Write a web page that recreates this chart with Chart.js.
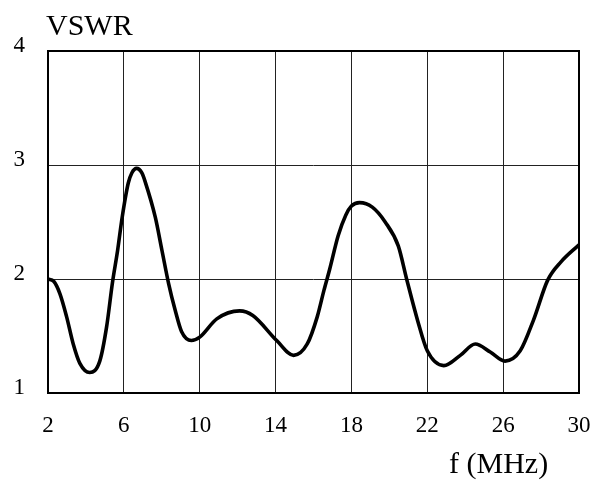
<!DOCTYPE html>
<html>
<head>
<meta charset="utf-8">
<script src="https://cdn.jsdelivr.net/npm/chart.js@4/dist/chart.umd.min.js"></script>
<style>
html,body{margin:0;padding:0;background:#fff;}
#wrap{width:595px;height:483px;position:relative;}
</style>
</head>
<body>
<div id="wrap"><canvas id="c" width="595" height="483"></canvas></div>
<script>
const freq = [2.0,2.3,2.63,2.98,3.33,3.68,4.2,4.73,5.09,5.4,5.67,5.91,6.23,6.42,6.67,6.95,7.13,7.66,8.01,8.36,8.7,9.04,9.56,10.0,10.9,12.1,12.8,14.06,14.95,15.67,16.2,16.55,16.86,17.3,17.7,18.0,18.43,19.1,19.78,20.47,20.91,21.5,22.0,22.87,23.74,24.53,25.32,26.1,26.9,27.6,28.35,29.05,30.0];
const vswr = [2.00,1.98,1.87,1.67,1.43,1.26,1.18,1.28,1.58,1.97,2.25,2.54,2.84,2.93,2.97,2.93,2.85,2.54,2.25,1.96,1.73,1.54,1.46,1.49,1.65,1.72,1.68,1.46,1.33,1.43,1.67,1.90,2.09,2.38,2.56,2.64,2.67,2.63,2.50,2.29,2.00,1.63,1.37,1.24,1.33,1.43,1.36,1.28,1.37,1.64,1.99,2.15,2.30];
const xTicks = [2,6,10,14,18,22,26,30];
const yTicks = [1,2,3,4];
const yTitle = 'VSWR';
const xTitle = 'f (MHz)';

const points = freq.map((f,i)=>({x:f,y:vswr[i]}));
const FONT = "'Liberation Serif', 'Times New Roman', serif";

const textPlugin = {
  id:'texts',
  afterDraw(chart){
    const ctx = chart.ctx;
    ctx.save();
    ctx.fillStyle = '#000';
    ctx.font = '30px ' + FONT;
    ctx.textBaseline = 'alphabetic';
    ctx.textAlign = 'left';
    ctx.fillText(yTitle, 46, 35);
    ctx.fillText(xTitle, 449, 473);
    ctx.restore();
  }
};
const borderPlugin = {
  id:'frame',
  afterDatasetsDraw(chart){
    const a = chart.chartArea, ctx = chart.ctx;
    ctx.save();
    ctx.strokeStyle = '#000';
    ctx.lineWidth = 2;
    ctx.strokeRect(a.left, a.top, a.right - a.left, a.bottom - a.top);
    ctx.restore();
  }
};

new Chart(document.getElementById('c'), {
  type:'line',
  data:{datasets:[{
    data:points,
    borderColor:'#000',
    borderWidth:3.6,
    pointRadius:0,
    fill:false,
    tension:0.4,
    cubicInterpolationMode:'monotone'
  }]},
  options:{
    responsive:false,
    animation:false,
    devicePixelRatio:1,
    layout:{padding:{top:51,right:16,left:0,bottom:0}},
    plugins:{legend:{display:false},tooltip:{enabled:false}},
    scales:{
      x:{
        type:'linear',min:2,max:30,
        afterBuildTicks(s){ s.ticks = xTicks.map(v=>({value:v})); },
        afterFit(s){ s.height = 483 - 393; s.paddingLeft = 0; s.paddingRight = 0; },
        grid:{color:'#222',lineWidth:1,drawTicks:false},
        border:{display:false},
        ticks:{color:'#000',font:{family:FONT,size:23},padding:19,maxRotation:0}
      },
      y:{
        type:'linear',min:1,max:4,
        afterBuildTicks(s){ s.ticks = yTicks.map(v=>({value:v})); },
        afterFit(s){ s.width = 48; s.paddingTop = 0; s.paddingBottom = 0; },
        grid:{color:'#222',lineWidth:1,drawTicks:false},
        border:{display:false},
        ticks:{color:'#000',font:{family:FONT,size:23},padding:23,labelOffset:-5}
      }
    }
  },
  plugins:[borderPlugin,textPlugin]
});
</script>
</body>
</html>
